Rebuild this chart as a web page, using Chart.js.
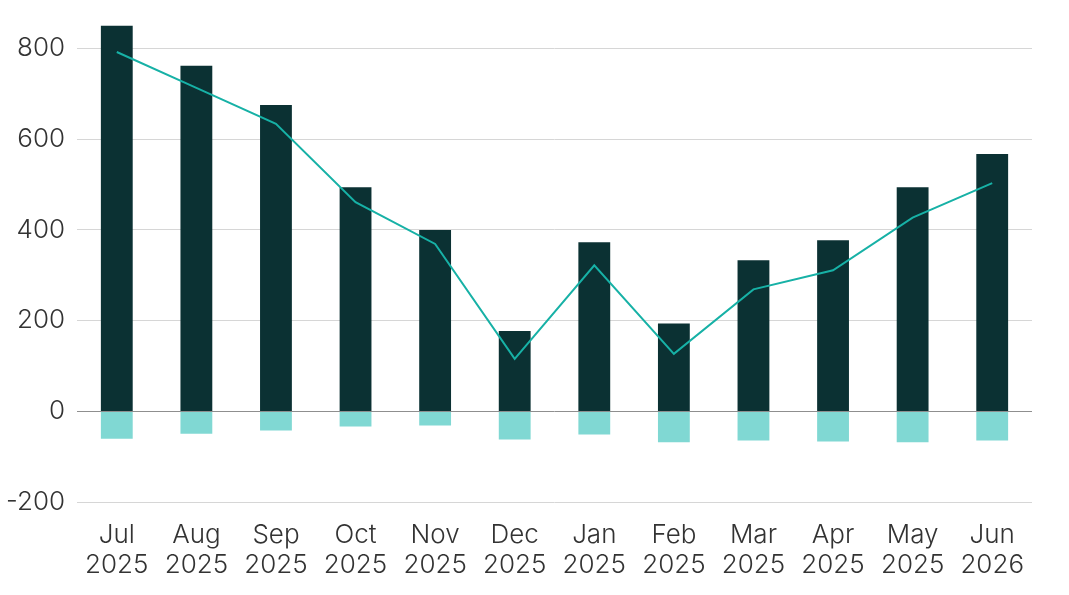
<!DOCTYPE html>
<html>
<head>
<meta charset="utf-8">
<script src="https://cdn.jsdelivr.net/npm/chart.js@4.4.0/dist/chart.umd.min.js"></script>
<style>
  html, body { margin: 0; padding: 0; background: #fff; }
  #wrap { width: 1069px; height: 595px; }
</style>
</head>
<body>
<div id="wrap"><canvas id="chart"></canvas></div>
<script>
// values
const months = [['Jul', '2025'], ['Aug', '2025'], ['Sep', '2025'], ['Oct', '2025'], ['Nov', '2025'], ['Dec', '2025'],
    ['Jan', '2025'], ['Feb', '2025'], ['Mar', '2025'], ['Apr', '2025'], ['May', '2025'], ['Jun', '2026']];
const inflows = [850, 762, 675, 494, 400, 177, 373, 194, 333, 377, 494, 567];
const outflows = [-60, -49, -42, -33, -31, -62, -51, -68, -64, -66, -68, -64];
const net = [792, 713, 634, 461, 369, 116, 322, 127, 269, 311, 427, 503];
const yTicks = [-200, 0, 200, 400, 600, 800];

const fontFamily = 'Inter, "Noto Sans", sans-serif';
const textColor = '#333333';

new Chart(document.getElementById('chart').getContext('2d'), {
    type: 'bar',
    data: {
        labels: months,
        datasets: [
            { type: 'line', label: 'Net', data: net, borderColor: '#17b1a6', borderWidth: 2, pointRadius: 0, tension: 0, fill: false, stack: 'net', order: 0 },
            { label: 'In', data: inflows, backgroundColor: '#0b3133', barPercentage: 0.4, categoryPercentage: 1, stack: 'flow', order: 1 },
            { label: 'Out', data: outflows, backgroundColor: '#80d8d3', barPercentage: 0.4, categoryPercentage: 1, stack: 'flow', order: 1 }
        ]
    },
    options: {
        responsive: true,
        maintainAspectRatio: false,
        animation: false,
        layout: { padding: { top: 3, right: 37, bottom: 5, left: 0 } },
        plugins: { legend: { display: false }, tooltip: { enabled: false } },
        scales: {
            x: {
                stacked: true,
                grid: { display: false },
                border: { display: false },
                ticks: { color: textColor, font: { family: fontFamily, size: 26, weight: 300, lineHeight: 1.15 }, padding: 10, maxRotation: 0 }
            },
            y: {
                stacked: true,
                min: -200,
                max: 900,
                afterBuildTicks: axis => { axis.ticks = yTicks.map(v => ({ value: v })); },
                afterFit: axis => { axis.width = 77; axis.paddingTop = 0; axis.paddingBottom = 0; },
                grid: { color: c => c.tick && c.tick.value === 0 ? '#8f8f8f' : '#d6d6d6', lineWidth: 1, drawTicks: false },
                border: { display: false },
                ticks: { color: textColor, font: { family: fontFamily, size: 26, weight: 300 }, padding: 12 }
            }
        }
    }
});
</script>
</body>
</html>
